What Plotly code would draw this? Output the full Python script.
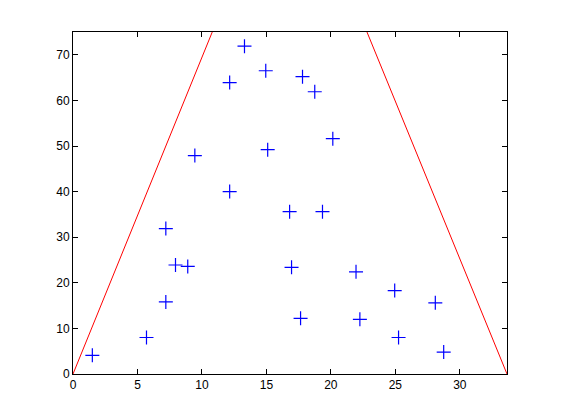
import plotly.graph_objects as go

# scatter points
point_x = [1.5, 5.7, 7.2, 7.2, 7.95, 8.9, 9.45, 12.15, 12.15, 13.3, 14.95, 15.1, 16.8,
           16.95, 17.65, 17.8, 18.75, 19.35, 20.15, 21.95, 22.25, 24.95, 25.25, 28.1, 28.75]
point_y = [4.1, 8.0, 15.8, 31.9, 23.9, 23.6, 47.9, 63.9, 40.0, 71.9, 66.5, 49.2, 35.6,
           23.4, 12.2, 65.2, 61.9, 35.6, 51.6, 22.4, 12.0, 18.3, 8.0, 15.6, 4.8]

# boundary lines
left_x = [0, 10.8]
left_y = [0, 75]
right_x = [22.8, 33.66]
right_y = [75, 0]

fig = go.Figure()
fig.add_trace(go.Scatter(x=left_x, y=left_y, mode="lines",
                         line={"color": "#ff0000", "width": 1}))
fig.add_trace(go.Scatter(x=right_x, y=right_y, mode="lines",
                         line={"color": "#ff0000", "width": 1}))
fig.add_trace(go.Scatter(x=point_x, y=point_y, mode="markers",
                         marker={"symbol": "cross-thin-open", "size": 10,
                                 "color": "#0000ff",
                                 "line": {"color": "#0000ff", "width": 1.2}}))

axis_style = {
    "showgrid": False,
    "zeroline": False,
    "showline": True,
    "linecolor": "black",
    "linewidth": 1,
    "mirror": "ticks",
    "ticks": "inside",
    "ticklen": 5,
    "tickcolor": "black",
    "tickfont": {"family": "Liberation Sans, Arial", "size": 12, "color": "black"},
}

# page body adds an 8px offset, so margins are shifted to keep the axes box in place
fig.update_layout(
    width=561,
    height=420,
    showlegend=False,
    paper_bgcolor="white",
    plot_bgcolor="white",
    margin={"l": 65, "r": 62, "t": 24, "b": 54},
    xaxis={**axis_style, "range": [0, 33.66], "dtick": 5, "tick0": 0},
    yaxis={**axis_style, "range": [0, 75], "dtick": 10, "tick0": 0},
)

fig.write_html("out.html")
